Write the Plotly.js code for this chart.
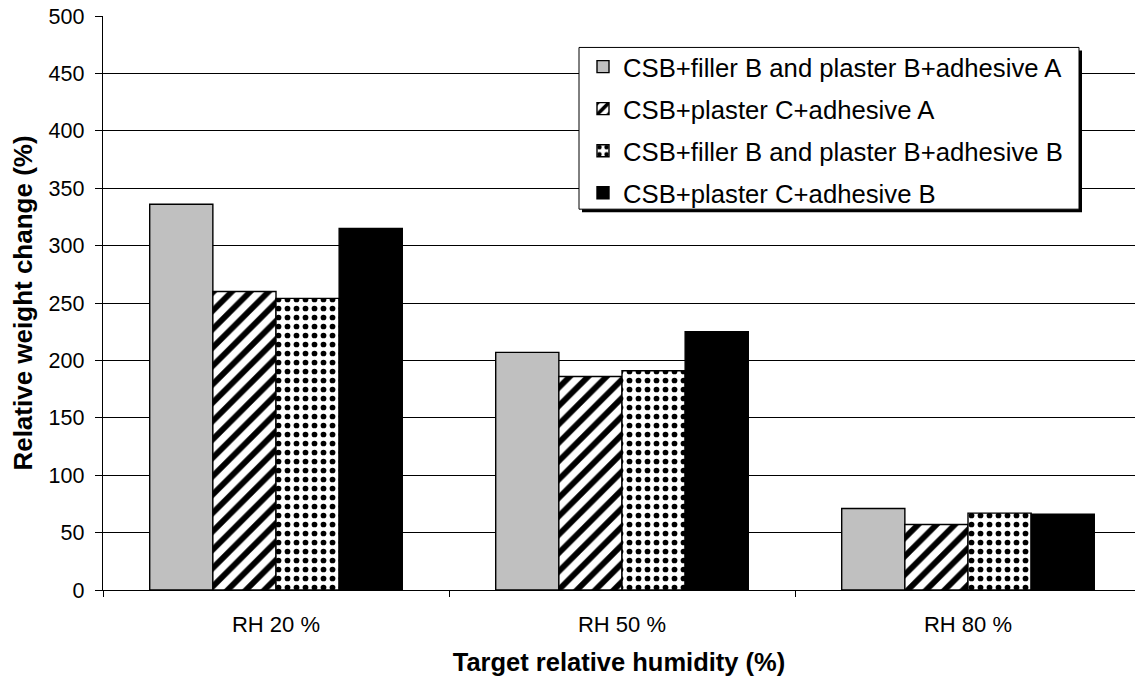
<!DOCTYPE html>
<html>
<head>
<meta charset="utf-8">
<script src="https://cdn.plot.ly/plotly-3.0.1.min.js"></script>
<style>
  html, body { margin: 0; padding: 0; background: #fff; }
  #chart { width: 1135px; height: 680px; }
</style>
</head>
<body>
<div id="chart"></div>
<script>
const categories = ["RH 20 %", "RH 50 %", "RH 80 %"];
const seriesNames = [
  "CSB+filler B and plaster B+adhesive A",
  "CSB+plaster C+adhesive A",
  "CSB+filler B and plaster B+adhesive B",
  "CSB+plaster C+adhesive B"
];
const fillerB_adhesiveA = [336, 207, 71];
const plasterC_adhesiveA = [260, 186, 57];
const fillerB_adhesiveB = [254, 191, 67];
const plasterC_adhesiveB = [315, 225, 66];
const yTicks = [0, 50, 100, 150, 200, 250, 300, 350, 400, 450, 500];

const FONT = "Liberation Sans, Arial, sans-serif";
const line = {color: "#000", width: 1.4};

const traces = [
  {type: "bar", name: seriesNames[0], x: categories, y: fillerB_adhesiveA, legendgroup: "a",
   marker: {color: "#C0C0C0", line: line}},
  {type: "bar", name: seriesNames[1], x: categories, y: plasterC_adhesiveA, legendgroup: "b",
   marker: {color: "#FFFFFF", line: line,
            pattern: {shape: "/", fgcolor: "#000", bgcolor: "#FFFFFF", fgopacity: 1, size: 13, solidity: 0.45, fillmode: "replace"}}},
  {type: "bar", name: seriesNames[2], x: categories, y: fillerB_adhesiveB, legendgroup: "c",
   marker: {color: "#FFFFFF", line: line,
            pattern: {shape: ".", fgcolor: "#000", bgcolor: "#FFFFFF", fgopacity: 1, size: 9, solidity: 0.32, fillmode: "replace"}}},
  {type: "bar", name: seriesNames[3], x: categories, y: plasterC_adhesiveB, legendgroup: "d",
   marker: {color: "#000000", line: line}}
];

const L = 103, R = 1135, T = 15.5, B = 590.5;
const px = v => (v - L) / (R - L);
const py = v => (B - v) / (B - T);

const layout = {
  width: 1135, height: 680,
  margin: {l: L, r: 0, t: T, b: 680 - B},
  paper_bgcolor: "#fff", plot_bgcolor: "#fff",
  font: {family: FONT, size: 22, color: "#000"},
  barmode: "group", bargap: 0.27, bargroupgap: 0,
  showlegend: true,
  legend: {
    x: px(583), xanchor: "left", y: py(43), yanchor: "top",
    bgcolor: "rgba(0,0,0,0)", borderwidth: 0,
    font: {family: FONT, size: 25.7, color: "#000"},
    traceorder: "grouped", tracegroupgap: 5.6
  },
  xaxis: {
    type: "category", range: [-0.5, (R - L) / 346 - 0.5],
    showline: true, linecolor: "#000", linewidth: 1.3,
    ticks: "outside", tickson: "boundaries", ticklen: 6, tickcolor: "#000", tickwidth: 1,
    ticklabelstandoff: 14,
    tickfont: {family: FONT, size: 22},
    showgrid: false, zeroline: false, automargin: false,
    title: {text: "Target relative humidity (%)", font: {family: FONT, size: 25.5, weight: "bold"}, standoff: 17}
  },
  yaxis: {
    range: [0, 500], tickvals: yTicks,
    showline: true, linecolor: "#000", linewidth: 1.3,
    ticks: "outside", ticklen: 7, tickcolor: "#000", tickwidth: 1,
    ticklabelstandoff: 6,
    tickfont: {family: FONT, size: 21.5},
    showgrid: true, gridcolor: "#000", gridwidth: 1,
    zeroline: false, automargin: false,
    title: {text: "Relative weight change (%)", font: {family: FONT, size: 26, weight: "bold"}, standoff: 8}
  },
  shapes: [
    {type: "rect", xref: "paper", yref: "paper", layer: "above",
     x0: px(582), x1: px(1082), y0: py(212), y1: py(50),
     fillcolor: "#000", line: {width: 0}},
    {type: "rect", xref: "paper", yref: "paper", layer: "above",
     x0: px(579), x1: px(1079), y0: py(209), y1: py(47),
     fillcolor: "#fff", line: {color: "#000", width: 1}}
  ]
};

Plotly.newPlot("chart", traces, layout, {staticPlot: true, displayModeBar: false});
</script>
</body>
</html>
